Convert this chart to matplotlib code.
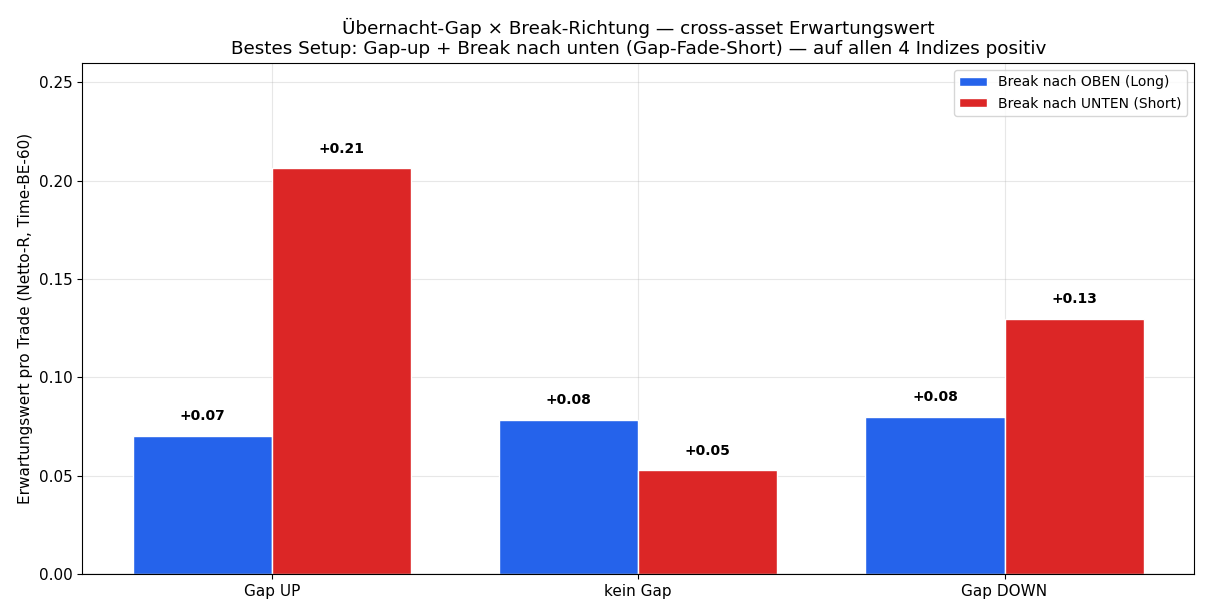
import numpy as np
import matplotlib
matplotlib.use("Agg")
import matplotlib.pyplot as plt

categories = ["Gap UP", "kein Gap", "Gap DOWN"]
long_ev = [0.0701, 0.0783, 0.0798]
short_ev = [0.2063, 0.0528, 0.1296]
series_labels = ["Break nach OBEN (Long)", "Break nach UNTEN (Short)"]


def main() -> None:
    x = np.arange(len(categories))
    w = 0.38

    fig, ax = plt.subplots(figsize=(12.1, 6.16), dpi=100)
    b1 = ax.bar(x - w / 2, long_ev, w, color="#2563eb", edgecolor="white",
                label=series_labels[0])
    b2 = ax.bar(x + w / 2, short_ev, w, color="#dc2626", edgecolor="white",
                label=series_labels[1])

    for bars in (b1, b2):
        for bar in bars:
            h = bar.get_height()
            ax.text(bar.get_x() + bar.get_width() / 2, h + 0.0065, f"{h:+.2f}",
                    ha="center", va="bottom", fontsize=10, fontweight="bold")

    ax.axhline(0, color="black", linewidth=0.8)
    ax.set_xticks(x)
    ax.set_xticklabels(categories, fontsize=11)
    ax.tick_params(axis="y", labelsize=11)
    ax.set_ylim(0, 0.26)
    ax.set_ylabel("Erwartungswert pro Trade (Netto-R, Time-BE-60)", fontsize=11)
    ax.set_title("Übernacht-Gap × Break-Richtung — cross-asset Erwartungswert\n"
                 "Bestes Setup: Gap-up + Break nach unten (Gap-Fade-Short) — auf allen 4 Indizes positiv",
                 fontsize=13.2)
    ax.grid(True, alpha=0.3)
    ax.set_axisbelow(True)
    ax.legend(loc="upper right", fontsize=10)

    fig.subplots_adjust(left=0.068, right=0.987, top=0.898, bottom=0.068)
    fig.savefig("out.png", dpi=100)
    plt.close(fig)


if __name__ == "__main__":
    main()
